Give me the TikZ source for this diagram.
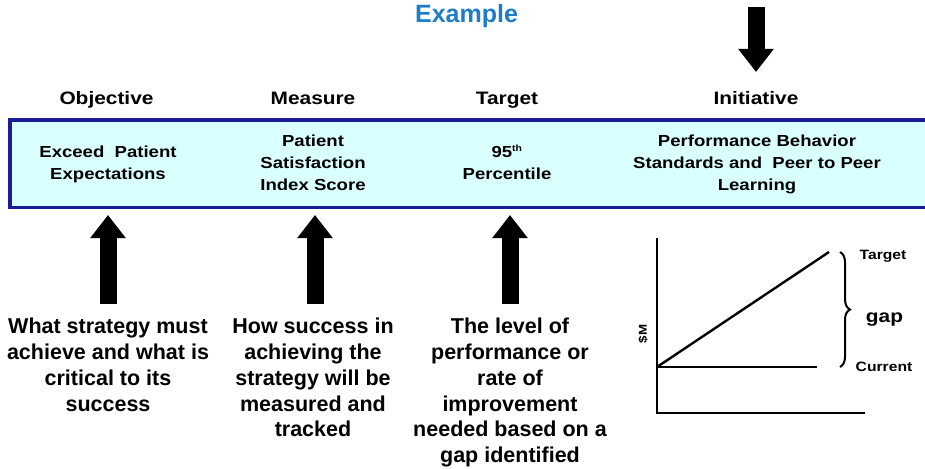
\documentclass[tikz,border=0pt]{standalone}
\usepackage{fontspec}
\setmainfont{Liberation Sans}
\newfontfamily\widefont[FakeStretch=1.16]{Liberation Sans}
\usetikzlibrary{arrows.meta,decorations.pathreplacing}
\definecolor{boxfill}{HTML}{D9FFFF}
\definecolor{boxline}{HTML}{1A1A9A}
\definecolor{titleblue}{HTML}{1E7DC8}
\begin{document}
\begin{tikzpicture}[x=1pt,y=-1pt,
  title/.style={font=\bfseries\fontsize{25}{28}\selectfont, text=titleblue, inner sep=0, anchor=base},
  head/.style={font=\widefont\bfseries\fontsize{18}{20}\selectfont, inner sep=0, anchor=base},
  boxtext/.style={font=\widefont\bfseries\fontsize{16}{22}\selectfont, align=center, inner sep=0, anchor=north},
  desc/.style={font=\bfseries\fontsize{21.5}{25.8}\selectfont, align=center, inner sep=0, anchor=north},
  chartlbl/.style={font=\widefont\bfseries\fontsize{13.5}{16}\selectfont, inner sep=0, anchor=base},
  bigarrow/.style={line width=17pt, -{Triangle[width=34pt,length=23pt]}},
  chartline/.style={line width=2.4pt},
]
\useasboundingbox (0,0) rectangle (925,468);

% title and headers
\node[title] (ex) at (466.5,23) {Example};
\node[head] (hobj) at (106.5,105) {Objective};
\node[head] (hmea) at (313,105) {Measure};
\node[head] (htar) at (507,105) {Target};
\node[head] (hini) at (756,105) {Initiative};

% band
\path[fill=boxfill, draw=boxline, line width=3.5pt] (10,120) rectangle (935,207.5);
\coordinate (band) at (470,163);

\node[boxtext] (tobj) at (108,145.3) {Exceed\ \ Patient\\Expectations};
\node[boxtext] (tmea) at (313,134.3) {Patient\\Satisfaction\\Index Score};
\node[boxtext] (ttar) at (507,144.3) {95\textsuperscript{\fontsize{9}{10}\selectfont th}\\Percentile};
\node[boxtext] (tini) at (757,134.3) {Performance Behavior\\Standards and\ \ Peer to Peer\\Learning};

% descriptions
\node[desc] (dobj) at (108,318) {What strategy must\\achieve and what is\\critical to its\\success};
\node[desc] (dmea) at (313,318) {How success in\\achieving the\\strategy will be\\measured and\\tracked};
\node[desc] (dtar) at (510,318) {The level of\\performance or\\rate of\\improvement\\needed based on a\\gap identified};

% arrows
\coordinate (a1s) at (108,304); \coordinate (a1e) at (108,215);
\coordinate (a2s) at (315,304); \coordinate (a2e) at (315,215);
\coordinate (a3s) at (510,304); \coordinate (a3e) at (510,215);
\coordinate (a4s) at (756,7);   \coordinate (a4e) at (756,72);
\draw[bigarrow] (a1s) -- (a1e);
\draw[bigarrow] (a2s) -- (a2e);
\draw[bigarrow] (a3s) -- (a3e);
\draw[bigarrow] (a4s) -- (a4e);

% chart
\coordinate (ytop) at (657,238);
\coordinate (orig) at (657,413);
\coordinate (xend) at (865,413);
\coordinate (cur0) at (657,367);
\coordinate (cur1) at (817,367);
\coordinate (tgt1) at (829,252);
\draw[chartline] (ytop) -- (orig) -- (xend);
\draw[chartline] (cur0) -- (cur1);
\draw[chartline] (cur0) -- (tgt1);
\coordinate (brtop) at (840,252);
\coordinate (brbot) at (840,367);
\draw[line width=2pt, decorate, decoration={brace, amplitude=10pt}] (brtop) -- (brbot);
\node[chartlbl] (ltgt) at (883,259) {Target};
\node[chartlbl, font=\widefont\bfseries\fontsize{18}{20}\selectfont] (lgap) at (884.5,322) {gap};
\node[chartlbl] (lcur) at (884,371.5) {Current};
\node[font=\widefont\bfseries\fontsize{11.5}{13}\selectfont, inner sep=0, rotate=90] (lsm) at (643,334) {\$M};
\end{tikzpicture}
\end{document}
